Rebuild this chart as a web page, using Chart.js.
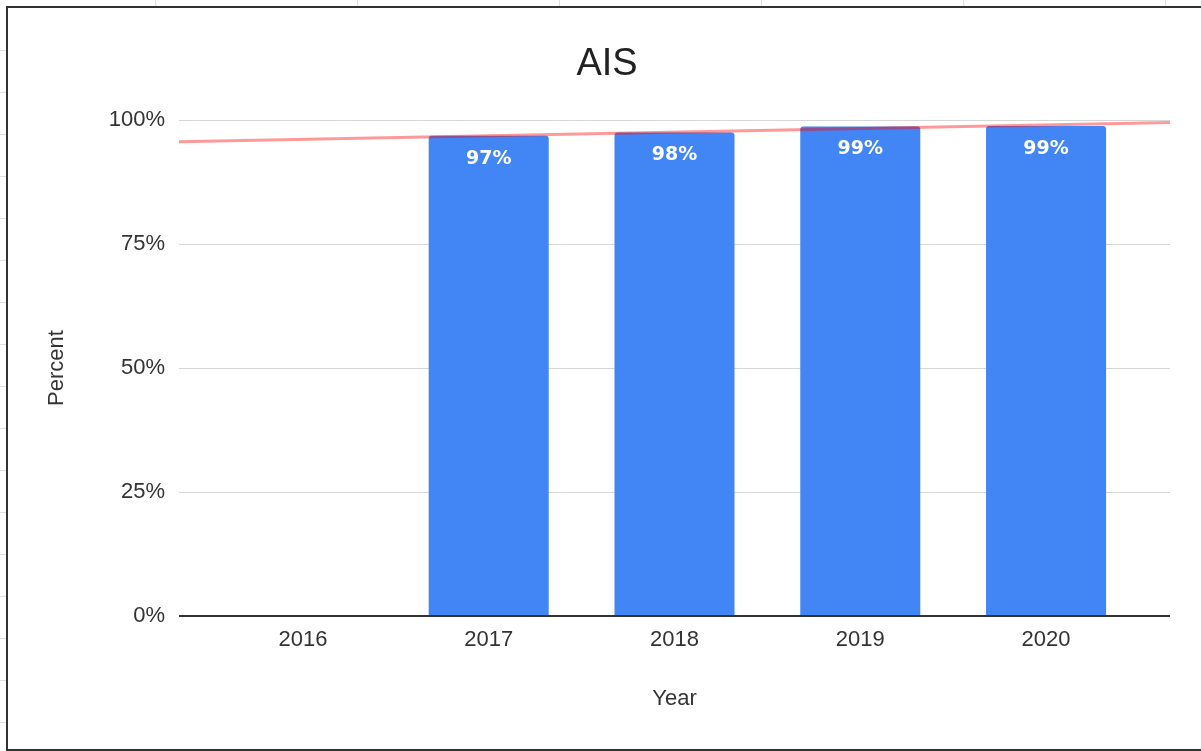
<!DOCTYPE html>
<html>
<head>
<meta charset="utf-8">
<script src="https://cdn.jsdelivr.net/npm/chart.js@4"></script>
<style>
    html, body { margin: 0; padding: 0; background: #fff; overflow: hidden; width: 1201px; height: 751px; }
    .sheet-col { position: absolute; top: 0; width: 1px; height: 7px; background: #e0e0e0; }
    .sheet-row { position: absolute; left: 0; width: 7px; height: 1px; background: #e0e0e0; }
    .frame { position: absolute; left: 6px; top: 6px; width: 1300px; height: 741px; border: 2px solid #333; background: #fff; }
    #chart { position: absolute; left: 0; top: 0; }
</style>
</head>
<body>
<div id="sheet"></div>
<div class="frame"></div>
<canvas id="chart" width="1201" height="751"></canvas>
<script>
// Data
const years = [2016, 2017, 2018, 2019, 2020];
const percent = [null, 96.8, 97.5, 98.7, 98.8];
const yTicks = [0, 25, 50, 75, 100];
// trendline at both ends of the axis
const trendX = [2015.333, 2020.667];
const trendY = [95.6, 99.5];

// Spreadsheet grid peeking out around the chart
const sheet = document.getElementById('sheet');
[155, 357, 559, 761, 963, 1165].forEach(x => {
    const d = document.createElement('div');
    d.className = 'sheet-col';
    d.style.left = x + 'px';
    sheet.appendChild(d);
});
for (let y = 50; y < 751; y += 42) {
    const d = document.createElement('div');
    d.className = 'sheet-row';
    d.style.top = y + 'px';
    sheet.appendChild(d);
}

const sansFont = "'Liberation Sans', Arial, sans-serif";

// White value labels inside the top of each bar
const barLabels = {
    id: 'barLabels',
    afterDatasetsDraw(chart) {
        const ctx = chart.ctx;
        const meta = chart.getDatasetMeta(0);
        ctx.save();
        ctx.fillStyle = '#fff';
        ctx.font = "bold 19px 'DejaVu Sans', sans-serif";
        ctx.textAlign = 'center';
        ctx.textBaseline = 'middle';
        meta.data.forEach((bar, i) => {
            if (percent[i] == null) return;
            ctx.fillText(Math.round(percent[i]) + '%', bar.x, bar.y + 23);
        });
        ctx.restore();
    }
};

new Chart(document.getElementById('chart'), {
    type: 'bar',
    data: {
        datasets: [
            {
                type: 'bar',
                label: 'AIS',
                data: years.map((y, i) => ({ x: y, y: percent[i] })),
                backgroundColor: '#4285f4',
                borderRadius: 3,
                categoryPercentage: 1,
                barPercentage: 0.646,
                order: 1
            },
            {
                type: 'line',
                label: 'Trend',
                data: trendX.map((x, i) => ({ x: x, y: trendY[i] })),
                borderColor: 'rgba(255, 0, 0, 0.4)',
                borderWidth: 3,
                pointRadius: 0,
                fill: false,
                order: 0
            }
        ]
    },
    options: {
        responsive: false,
        animation: false,
        devicePixelRatio: 1,
        layout: { padding: { left: 44, right: 31, top: 0, bottom: 0 } },
        plugins: {
            legend: { display: false },
            tooltip: { enabled: false },
            title: {
                display: true,
                text: 'AIS',
                color: '#222',
                font: { family: sansFont, size: 38, weight: 'normal' },
                padding: { top: 42, bottom: 32.4 }
            }
        },
        scales: {
            x: {
                type: 'linear',
                offset: false,
                min: trendX[0],
                max: trendX[1],
                afterBuildTicks: scale => { scale.ticks = years.map(v => ({ value: v })); },
                afterFit: scale => { scale.height = 135; },
                grid: { display: false, drawTicks: false },
                border: { display: false },
                ticks: {
                    padding: 11,
                    color: '#333',
                    font: { family: sansFont, size: 22 },
                    callback: v => String(v)
                },
                title: {
                    display: true,
                    text: 'Year',
                    color: '#333',
                    font: { family: sansFont, size: 22 },
                    padding: { top: 0, bottom: 39 }
                }
            },
            y: {
                min: 0,
                max: 100,
                afterBuildTicks: scale => { scale.ticks = yTicks.map(v => ({ value: v })); },
                afterFit: scale => { scale.width = 135; },
                grid: {
                    drawTicks: false,
                    color: ctx => ctx.tick && ctx.tick.value === 0 ? '#333' : '#d6d6d6',
                    lineWidth: ctx => ctx.tick && ctx.tick.value === 0 ? 2 : 1
                },
                border: { display: false },
                ticks: {
                    padding: 14,
                    color: '#333',
                    font: { family: sansFont, size: 22 },
                    callback: v => v + '%'
                },
                title: {
                    display: true,
                    text: 'Percent',
                    color: '#333',
                    font: { family: sansFont, size: 22 },
                    padding: { top: 0, bottom: 0 }
                }
            }
        }
    },
    plugins: [barLabels]
});
</script>
</body>
</html>
